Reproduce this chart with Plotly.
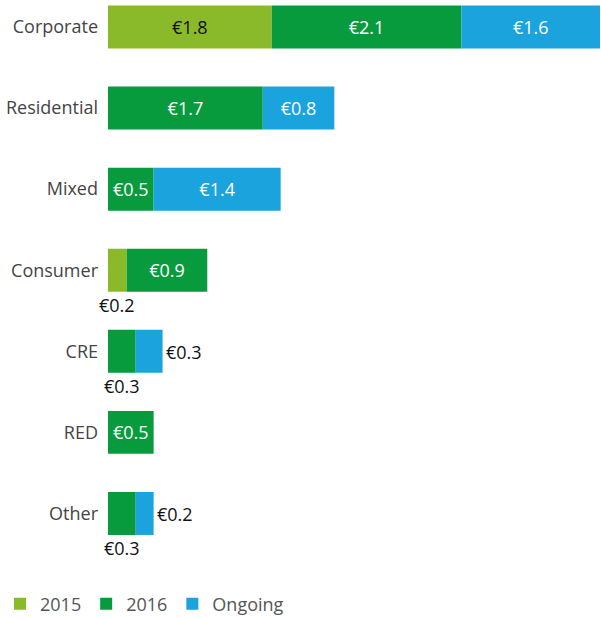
import plotly.graph_objects as go

categories = ["Corporate", "Residential", "Mixed", "Consumer", "CRE", "RED", "Other"]
v2015 = [1.83, 0, 0, 0.21, 0, 0, 0]
v2016 = [2.12, 1.73, 0.51, 0.90, 0.31, 0.51, 0.31]
vOngoing = [1.55, 0.80, 1.42, 0, 0.30, 0, 0.20]
lbl2015 = ["€1.8", "", "", "€0.2", "", "", ""]
lbl2016 = ["€2.1", "€1.7", "€0.5", "€0.9", "€0.3", "€0.5", "€0.3"]
lblOngoing = ["€1.6", "€0.8", "€1.4", "", "€0.3", "", "€0.2"]
# labels drawn outside the bar (too small to fit)
outside_below = {("2015", "Consumer"), ("2016", "CRE"), ("2016", "Other")}
outside_right = {("Ongoing", "CRE"), ("Ongoing", "Other")}

C15, C16, CON = "#8aba2a", "#079b3e", "#1ba3dd"
FONT = "Open Sans"

fig = go.Figure()
series = [("2015", v2015, lbl2015, C15, "#111111"),
          ("2016", v2016, lbl2016, C16, "white"),
          ("Ongoing", vOngoing, lblOngoing, CON, "white")]
base = [0.0] * len(categories)
annotations = []
for name, vals, lbls, col, tcol in series:
    texts = []
    for i, c in enumerate(categories):
        if (name, c) in outside_below:
            texts.append("")
            annotations.append(dict(x=base[i] + vals[i] / 2, y=c, text=lbls[i], showarrow=False,
                                    xanchor="center", yanchor="middle", yshift=-35,
                                    font=dict(family=FONT, size=18, color="#111111")))
        elif (name, c) in outside_right:
            texts.append("")
            annotations.append(dict(x=base[i] + vals[i], y=c, text=lbls[i], showarrow=False,
                                    xanchor="left", yanchor="middle", xshift=1, yshift=-1,
                                    font=dict(family=FONT, size=18, color="#111111")))
        else:
            texts.append(lbls[i])
    fig.add_trace(go.Bar(
        y=categories, x=vals, base=base[:], name=name, orientation="h",
        marker=dict(color=col, line=dict(width=0)),
        text=texts, textposition="inside", insidetextanchor="middle",
        textfont=dict(family=FONT, size=18, color=tcol),
        hoverinfo="skip",
    ))
    base = [b + v for b, v in zip(base, vals)]

fig.update_layout(
    width=601, height=618,
    margin=dict(l=108, r=1, t=0, b=64),
    plot_bgcolor="white", paper_bgcolor="white",
    barmode="overlay", bargap=0.47,
    font=dict(family=FONT, size=18, color="#444444"),
    uniformtext=dict(minsize=18, mode="show"),
    showlegend=True,
    legend=dict(orientation="h", xref="paper", yref="container", x=-0.234, y=14 / 618,
                xanchor="left", yanchor="middle",
                font=dict(family=FONT, size=18, color="#555555"),
                itemwidth=30, tracegroupgap=0),
    annotations=annotations,
)
fig.update_xaxes(range=[0, 5.5], visible=False, fixedrange=True)
fig.update_yaxes(categoryorder="array", categoryarray=categories,
                 range=[6.5, -0.333], showgrid=False, zeroline=False, showline=False,
                 ticks="", ticklabelstandoff=9, tickfont=dict(family=FONT, size=18, color="#444444"))

fig.write_html("out.html", config={"displayModeBar": False},
               post_script="document.body.style.margin='0';document.body.style.overflow='hidden';")
